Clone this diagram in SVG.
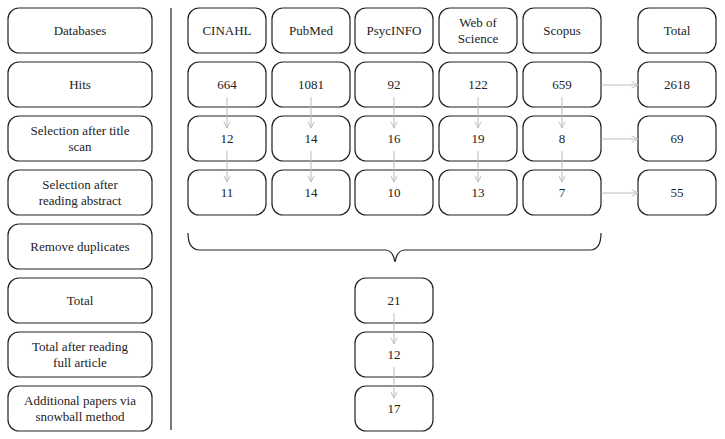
<svg xmlns="http://www.w3.org/2000/svg" width="725" height="439" viewBox="0 0 725 439">
<defs>
<style>
.b{fill:#fff;stroke:#222;stroke-width:1.2}
text{font-family:"Liberation Serif","Times New Roman","DejaVu Serif",serif;font-size:13px;fill:#222;text-anchor:middle}
.a{stroke:#bbb;stroke-width:1;fill:none;marker-end:url(#m)}
</style>
<marker id="m" viewBox="0 0 10 10" refX="9" refY="5" markerWidth="8" markerHeight="8" orient="auto" markerUnits="userSpaceOnUse"><path d="M1,1 L9,5 L1,9" fill="none" stroke="#bbb" stroke-width="1.2"/></marker>
</defs>
<g id="labels">
<g id="l1"><rect class="b" x="8" y="8" width="144" height="45" rx="11"/><text x="80" y="35">Databases</text></g>
<g id="l2"><rect class="b" x="8" y="62" width="144" height="45" rx="11"/><text x="80" y="89">Hits</text></g>
<g id="l3"><rect class="b" x="8" y="116" width="144" height="45" rx="11"/><text x="80" y="135">Selection after title</text><text x="80" y="151">scan</text></g>
<g id="l4"><rect class="b" x="8" y="170" width="144" height="45" rx="11"/><text x="80" y="189">Selection after</text><text x="80" y="205">reading abstract</text></g>
<g id="l5"><rect class="b" x="8" y="224" width="144" height="45" rx="11"/><text x="80" y="251">Remove duplicates</text></g>
<g id="l6"><rect class="b" x="8" y="278" width="144" height="45" rx="11"/><text x="80" y="305">Total</text></g>
<g id="l7"><rect class="b" x="8" y="332" width="144" height="45" rx="11"/><text x="80" y="351">Total after reading</text><text x="80" y="367">full article</text></g>
<g id="l8"><rect class="b" x="8" y="386" width="144" height="45" rx="11"/><text x="80" y="405">Additional papers via</text><text x="80" y="421">snowball method</text></g>
</g>
<line x1="171" y1="8" x2="171" y2="430" stroke="#222" stroke-width="1.2"/>
<g id="nodes">
<g id="cinahl"><rect class="b" x="188" y="8" width="78" height="45" rx="11"/><text x="227" y="35">CINAHL</text></g>
<g id="pubmed"><rect class="b" x="272" y="8" width="78" height="45" rx="11"/><text x="311" y="35">PubMed</text></g>
<g id="psyc"><rect class="b" x="355" y="8" width="78" height="45" rx="11"/><text x="394" y="35">PsycINFO</text></g>
<g id="wos"><rect class="b" x="439" y="8" width="78" height="45" rx="11"/><text x="478" y="27">Web of</text><text x="478" y="43">Science</text></g>
<g id="scopus"><rect class="b" x="523" y="8" width="78" height="45" rx="11"/><text x="562" y="35">Scopus</text></g>
<g id="total"><rect class="b" x="638" y="8" width="78" height="45" rx="11"/><text x="677" y="35">Total</text></g>
<g id="r2"><rect class="b" x="188" y="62" width="78" height="45" rx="11"/><text x="227" y="89">664</text>
<rect class="b" x="272" y="62" width="78" height="45" rx="11"/><text x="311" y="89">1081</text>
<rect class="b" x="355" y="62" width="78" height="45" rx="11"/><text x="394" y="89">92</text>
<rect class="b" x="439" y="62" width="78" height="45" rx="11"/><text x="478" y="89">122</text>
<rect class="b" x="523" y="62" width="78" height="45" rx="11"/><text x="562" y="89">659</text>
<rect class="b" x="638" y="62" width="78" height="45" rx="11"/><text x="677" y="89">2618</text></g>
<g id="r3"><rect class="b" x="188" y="116" width="78" height="45" rx="11"/><text x="227" y="143">12</text>
<rect class="b" x="272" y="116" width="78" height="45" rx="11"/><text x="311" y="143">14</text>
<rect class="b" x="355" y="116" width="78" height="45" rx="11"/><text x="394" y="143">16</text>
<rect class="b" x="439" y="116" width="78" height="45" rx="11"/><text x="478" y="143">19</text>
<rect class="b" x="523" y="116" width="78" height="45" rx="11"/><text x="562" y="143">8</text>
<rect class="b" x="638" y="116" width="78" height="45" rx="11"/><text x="677" y="143">69</text></g>
<g id="r4"><rect class="b" x="188" y="170" width="78" height="45" rx="11"/><text x="227" y="197">11</text>
<rect class="b" x="272" y="170" width="78" height="45" rx="11"/><text x="311" y="197">14</text>
<rect class="b" x="355" y="170" width="78" height="45" rx="11"/><text x="394" y="197">10</text>
<rect class="b" x="439" y="170" width="78" height="45" rx="11"/><text x="478" y="197">13</text>
<rect class="b" x="523" y="170" width="78" height="45" rx="11"/><text x="562" y="197">7</text>
<rect class="b" x="638" y="170" width="78" height="45" rx="11"/><text x="677" y="197">55</text></g>
<g id="t21"><rect class="b" x="355" y="278" width="78" height="45" rx="11"/><text x="394" y="305">21</text></g>
<g id="t12"><rect class="b" x="355" y="332" width="78" height="45" rx="11"/><text x="394" y="359">12</text></g>
<g id="t17"><rect class="b" x="355" y="386" width="78" height="45" rx="11"/><text x="394" y="413">17</text></g>
</g>
<g id="connectors">
<line class="a" x1="227" y1="97" x2="227" y2="128"/><line class="a" x1="311" y1="97" x2="311" y2="128"/><line class="a" x1="394" y1="97" x2="394" y2="128"/><line class="a" x1="478" y1="97" x2="478" y2="128"/><line class="a" x1="562" y1="97" x2="562" y2="128"/>
<line class="a" x1="227" y1="151" x2="227" y2="182"/><line class="a" x1="311" y1="151" x2="311" y2="182"/><line class="a" x1="394" y1="151" x2="394" y2="182"/><line class="a" x1="478" y1="151" x2="478" y2="182"/><line class="a" x1="562" y1="151" x2="562" y2="182"/>
<line class="a" x1="601" y1="85" x2="638" y2="85"/><line class="a" x1="601" y1="139" x2="638" y2="139"/><line class="a" x1="601" y1="193" x2="638" y2="193"/>
<line class="a" x1="394" y1="313" x2="394" y2="344"/><line class="a" x1="394" y1="367" x2="394" y2="398"/>
<path d="M188,233Q188,250 200,250H385Q393,250 395,262Q397,250 405,250H590Q601,250 601,233" fill="none" stroke="#222" stroke-width="1.2"/>
</g>
</svg>
